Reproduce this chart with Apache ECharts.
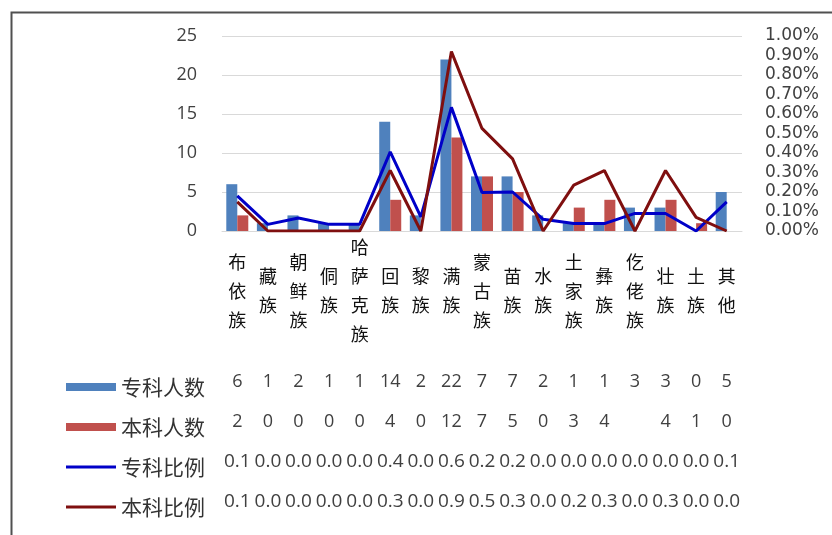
<!DOCTYPE html>
<html>
<head>
<meta charset="utf-8">
<script src="https://cdn.jsdelivr.net/npm/echarts@6/dist/echarts.min.js"></script>
<style>
html,body{margin:0;padding:0;background:#fff;}
#chart{width:832px;height:535px;}
</style>
</head>
<body>
<div id="chart"></div>
<script>
// ---- data ----
const categories = ['布依族','藏族','朝鲜族','侗族','哈萨克族','回族','黎族','满族','蒙古族','苗族','水族','土家族','彝族','仡佬族','壮族','土族','其他'];
const zkCount = [6, 1, 2, 1, 1, 14, 2, 22, 7, 7, 2, 1, 1, 3, 3, 0, 5];
const bkCount = [2, 0, 0, 0, 0, 4, 0, 12, 7, 5, 0, 3, 4, null, 4, 1, 0];
const zkRatio = [0.18, 0.034, 0.067, 0.034, 0.034, 0.406, 0.072, 0.634, 0.197, 0.2, 0.06, 0.038, 0.038, 0.09, 0.09, 0, 0.149];
const bkRatio = [0.149, 0, 0, 0, 0, 0.31, 0, 0.92, 0.526, 0.37, 0, 0.235, 0.31, 0, 0.31, 0.07, 0];
// data-table text as shown
const zkRatioText = ['0.1','0.0','0.0','0.0','0.0','0.4','0.0','0.6','0.2','0.2','0.0','0.0','0.0','0.0','0.0','0.0','0.1'];
const bkRatioText = ['0.1','0.0','0.0','0.0','0.0','0.3','0.0','0.9','0.5','0.3','0.0','0.2','0.3','0.0','0.3','0.0','0.0'];
const seriesNames = ['专科人数','本科人数','专科比例','本科比例'];
const leftTicks = {min: 0, max: 25, interval: 5};
const rightTicks = {min: 0, max: 1, interval: 0.1};

// ---- layout ----
const gridTop = 36, gridBottomY = 231;
const rowY = [382, 422, 462, 502];
const colors = ['#4F81BD', '#C0504D', '#0000C8', '#7F0F0F'];
const numFont = 'Open Sans';
const cjkFont = 'Noto Sans CJK SC';

function tableAxis(data, idx, size) {
  return {
    type: 'category', gridIndex: 0, position: 'bottom',
    offset: rowY[idx] - gridBottomY,
    data: data.map(v => v === null ? '' : String(v)),
    axisLine: {show: false}, axisTick: {show: false}, splitLine: {show: false},
    axisLabel: {interval: 0, margin: 0, verticalAlign: 'middle', fontFamily: numFont, fontSize: size, color: '#404040'}
  };
}
function legendRow(idx, h) {
  return {
    data: [seriesNames[idx]], left: 61, top: rowY[idx] - 12, orient: 'horizontal',
    icon: 'rect', itemWidth: 50, itemHeight: h, selectedMode: false,
    textStyle: {fontFamily: cjkFont, fontSize: 21, color: '#333', lineHeight: 24}
  };
}

const chart = echarts.init(document.getElementById('chart'), null, {renderer: 'canvas'});
chart.setOption({
  animation: false,
  backgroundColor: '#fff',
  grid: {left: 222, right: 90, top: gridTop, height: gridBottomY - gridTop},
  legend: [legendRow(0, 8), legendRow(1, 8), legendRow(2, 3), legendRow(3, 3)],
  xAxis: [
    {
      type: 'category', gridIndex: 0, data: categories,
      axisLine: {show: true, lineStyle: {color: '#D9D9D9', width: 1}},
      axisTick: {show: false},
      axisLabel: {
        interval: 0, margin: 60, verticalAlign: 'middle', lineHeight: 29,
        fontFamily: cjkFont, fontSize: 18, color: '#111',
        formatter: v => v.split('').join('\n')
      }
    },
    tableAxis(zkCount, 0, 18),
    tableAxis(bkCount, 1, 18),
    tableAxis(zkRatioText, 2, 19),
    tableAxis(bkRatioText, 3, 19)
  ],
  yAxis: [
    {
      type: 'value', min: leftTicks.min, max: leftTicks.max, interval: leftTicks.interval,
      axisLine: {show: false}, axisTick: {show: false},
      splitLine: {show: true, lineStyle: {color: '#D9D9D9', width: 1}},
      axisLabel: {margin: 25, fontFamily: numFont, fontSize: 18, color: '#404040'}
    },
    {
      type: 'value', min: rightTicks.min, max: rightTicks.max, interval: rightTicks.interval,
      position: 'right',
      axisLine: {show: false}, axisTick: {show: false}, splitLine: {show: false},
      axisLabel: {margin: 23, fontFamily: 'DejaVu Sans', fontSize: 17, color: '#404040',
        formatter: v => v.toFixed(2) + '%'}
    }
  ],
  series: [
    {name: seriesNames[0], type: 'bar', xAxisIndex: 0, yAxisIndex: 0, data: zkCount,
     barWidth: 11, barGap: '0%', itemStyle: {color: colors[0]}},
    {name: seriesNames[1], type: 'bar', xAxisIndex: 0, yAxisIndex: 0, data: bkCount,
     barWidth: 11, barGap: '0%', itemStyle: {color: colors[1]}},
    {name: seriesNames[2], type: 'line', xAxisIndex: 0, yAxisIndex: 1, data: zkRatio,
     showSymbol: false, symbol: 'none', lineStyle: {color: colors[2], width: 3}, itemStyle: {color: colors[2]}},
    {name: seriesNames[3], type: 'line', xAxisIndex: 0, yAxisIndex: 1, data: bkRatio,
     showSymbol: false, symbol: 'none', lineStyle: {color: colors[3], width: 3}, itemStyle: {color: colors[3]}}
  ],
  graphic: [{
    type: 'rect', left: 9, top: 10, silent: true,
    shape: {x: 0, y: 0, width: 900, height: 600},
    style: {fill: 'none', stroke: '#505050', lineWidth: 2}
  }]
});
</script>
</body>
</html>
